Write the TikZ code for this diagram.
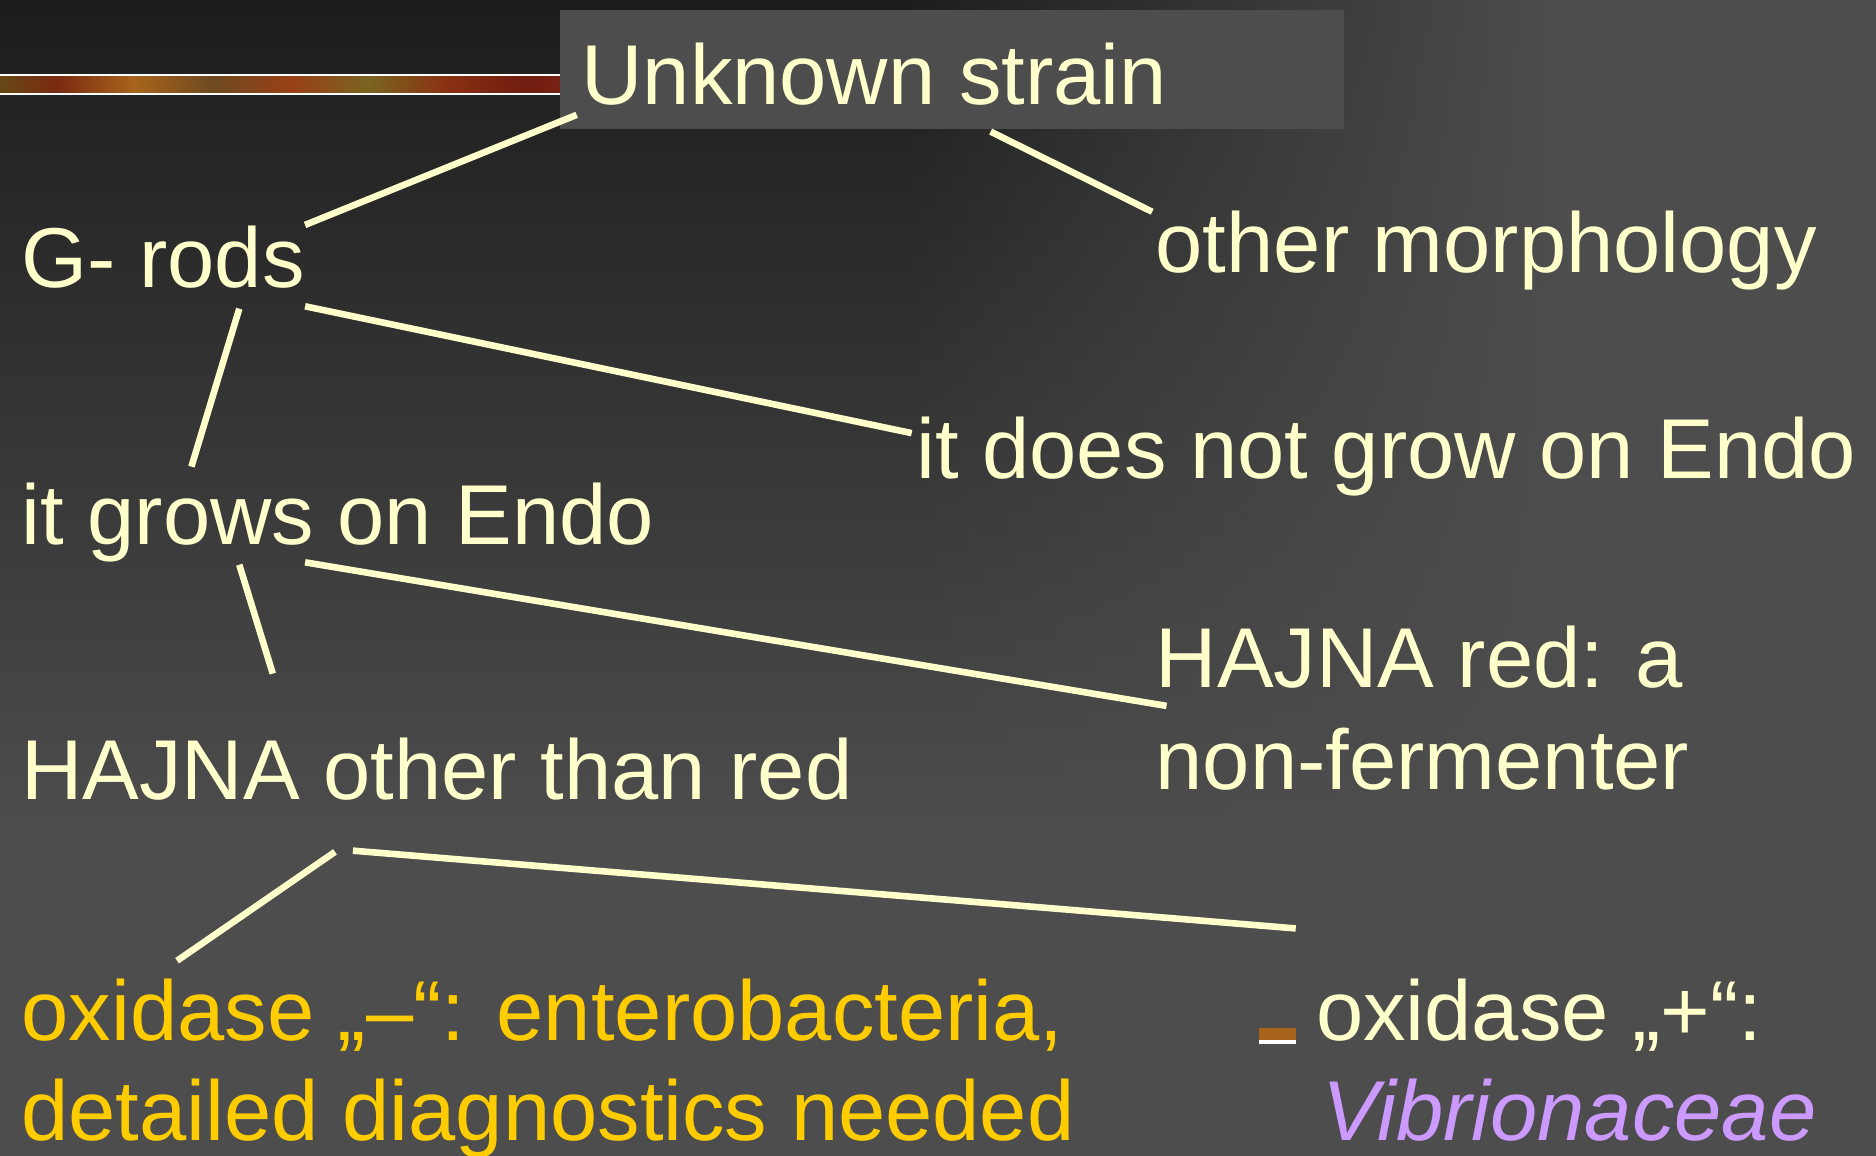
\documentclass[tikz,border=0pt]{standalone}
\usepackage{fontspec}
\setmainfont{Liberation Sans}
\usetikzlibrary{fadings}
\definecolor{cream}{HTML}{FFFFCC}
\definecolor{gold}{HTML}{FFCC00}
\definecolor{lilac}{HTML}{CC99FF}
\definecolor{boxgray}{HTML}{4D4D4D}
\definecolor{bgin}{HTML}{1C1C1C}
\definecolor{bgout}{HTML}{4D4D4D}
\definecolor{sa}{HTML}{9A5A14}
\definecolor{sb}{HTML}{7A6A30}
\definecolor{sc}{HTML}{8A3A10}
\definecolor{sd}{HTML}{5A5A18}
\definecolor{se}{HTML}{7A2A10}
\definecolor{sf}{HTML}{A8641C}
\definecolor{sg}{HTML}{6E4A20}
\definecolor{sh}{HTML}{9A4016}
\definecolor{si}{HTML}{7A6420}
\definecolor{sj}{HTML}{8A3012}
\definecolor{sk}{HTML}{701C10}
\definecolor{sl}{HTML}{8A2A18}
\definecolor{sm}{HTML}{9A4A1A}
\definecolor{sn}{HTML}{B0781E}
\pgfdeclarehorizontalshading{spicebar}{100bp}{%
  color(0bp)=(sa); color(8bp)=(sb); color(15bp)=(sc); color(22bp)=(sd);
  color(30bp)=(se); color(37bp)=(sf); color(44bp)=(sg); color(51bp)=(sh);
  color(58bp)=(si); color(65bp)=(sj); color(72bp)=(sk); color(80bp)=(sl);
  color(88bp)=(sm); color(95bp)=(sn); color(100bp)=(sa)}
\tikzfading[name=rightramp, left color=transparent!100, right color=transparent!0]
\tikzset{
  lbl/.style={anchor=base west, inner sep=0pt, outer sep=0pt, font=\fontsize{71}{85}\selectfont},
  txt/.style={lbl, text=cream},
  yel/.style={lbl, text=gold},
  conn/.style={draw=cream, line width=5.5pt}
}
\begin{document}
\begin{tikzpicture}[x=1pt,y=-1pt]
\useasboundingbox (0,0) rectangle (1568,966);
% background
\begin{scope}
\clip (0,0) rectangle (1568,966);
\shade[top color=bgin, bottom color=bgout] (-10,-10) rectangle (1578,700);
\fill[bgout] (-10,699) rectangle (1578,976);
\fill[bgout, path fading=rightramp] (750,-40) rectangle (1300,1006);
\fill[bgout] (1299,-10) rectangle (1578,976);
\end{scope}
% decorative bar
\fill[white] (0,62) rectangle (468,79);
\shade[shading=spicebar] (0,64) rectangle (468,77);
% header box
\fill[boxgray] (468,8) rectangle (1123,108);
% bottom right box
\fill[boxgray] (1083,790) rectangle (1568,966);
\fill[white] (1052,859) rectangle (1083,873);
\fill[sf] (1052,859) rectangle (1083,869);

% texts
\node[txt] (us) at (486,87) {Unknown strain};
\node[txt] (gr) at (18,240) {G- rods};
\node[txt] (om) at (966,228) {other morphology};
\node[txt] (dn) at (766,400) {it does not grow on Endo};
\node[txt] (ig) at (18,455) {it grows on Endo};
\node[txt] (hr) at (966,575) {HAJNA red: a};
\node[txt] (hr2) at (966,660) {non-fermenter};
\node[txt] (ho) at (18,668) {HAJNA other than red};
\node[yel] (on) at (18,870) {oxidase „–“: enterobacteria,};
\node[yel] (on2) at (18,953) {detailed diagnostics needed};
\node[txt] (op) at (1100,870) {oxidase „+“:};
\node[lbl, text=lilac, font=\fontsize{71}{85}\selectfont\itshape] (op2) at (1105,953) {Vibrionaceae};

% connectors
\draw[conn] ([shift={(-4,9)}]us.base west) -- ([shift={(237,-52)}]gr.base west);
\draw[conn] ([shift={(342,23)}]us.base west) -- ([shift={(-3,-51)}]om.base west);
\draw[conn] ([shift={(182,18)}]gr.base west) -- ([shift={(142,-65)}]ig.base west);
\draw[conn] ([shift={(237,16)}]gr.base west) -- ([shift={(-4,-38)}]dn.base west);
\draw[conn] ([shift={(182,17)}]ig.base west) -- ([shift={(210,-105)}]ho.base west);
\draw[conn] ([shift={(237,15)}]ig.base west) -- ([shift={(9,15)}]hr.base west);
\draw[conn] ([shift={(262,44)}]ho.base west) -- ([shift={(130,-67)}]on.base west);
\draw[conn] ([shift={(277,43)}]ho.base west) -- ([shift={(-17,-94)}]op.base west);
\end{tikzpicture}
\end{document}
